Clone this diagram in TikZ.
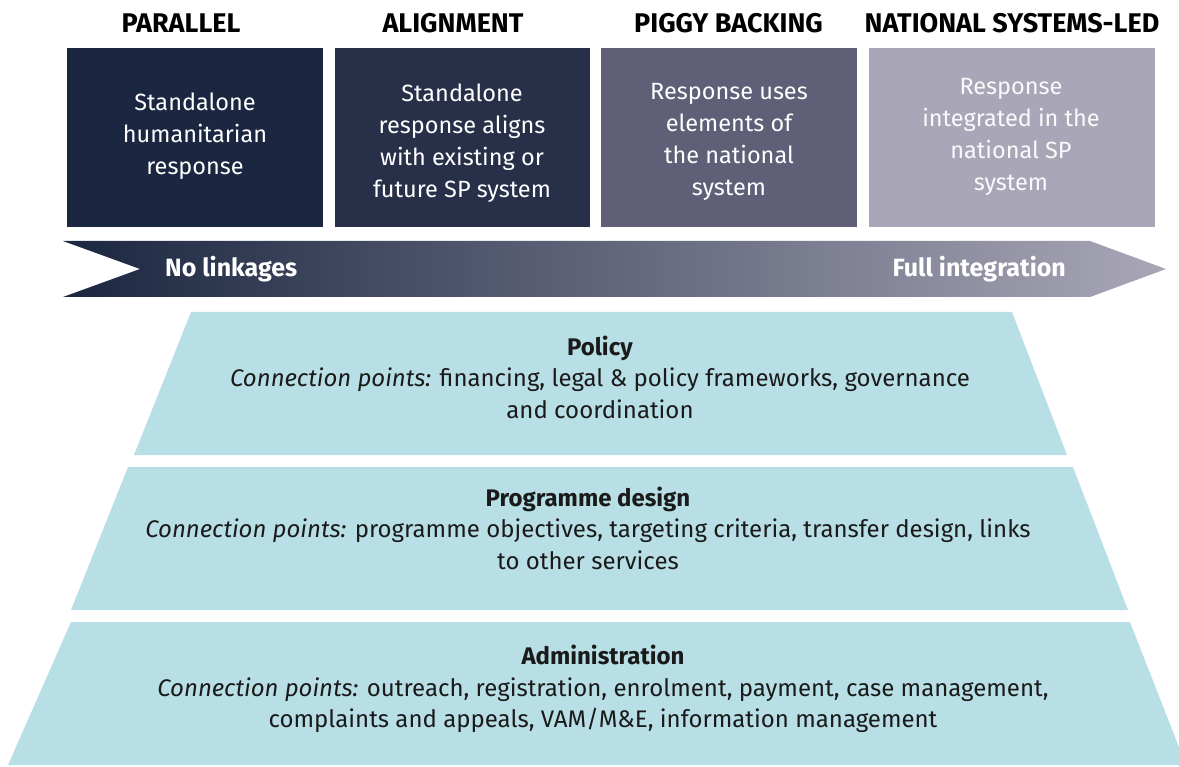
\documentclass[tikz,border=0pt]{standalone}
\usepackage{fontspec}
\setmainfont{Fira Sans}
\usetikzlibrary{positioning}
\definecolor{navyone}{HTML}{1B2640}
\definecolor{navytwo}{HTML}{283049}
\definecolor{slate}{HTML}{5F5F78}
\definecolor{lilac}{HTML}{A9A7B7}
\definecolor{pale}{HTML}{B8DFE5}
\definecolor{ink}{HTML}{1A1A1A}
\tikzset {
  % column headings
  heading/.style = {font=\bfseries\fontsize{27}{30}\selectfont, text=black, inner sep=0pt},
  % coloured approach boxes
  approach/.style = {minimum width=256pt, minimum height=179pt, inner sep=0pt},
  boxtext/.style = {align=center, text=white, inner sep=0pt, font=\fontsize{23.5}{32}\selectfont},
  % labels on the arrow
  ends/.style = {font=\bfseries\fontsize{25}{28}\selectfont, text=white, inner sep=0pt},
  % connection layers
  layertext/.style = {align=center, text=ink, inner sep=0pt, font=\fontsize{24}{31.5}\selectfont},
}

\begin{document}
\begin{tikzpicture}[x=1pt, y=-1pt]
  \useasboundingbox (0,0) rectangle (1179,767);

  \node[approach, fill=navyone] (parallel) at (195,137.5) {};
  \node[approach, fill=navytwo, minimum width=255pt] (align) at (462.5,137.5) {};
  \node[approach, fill=slate] (piggy) at (729,137.5) {};
  \node[approach, fill=lilac, minimum width=286pt] (national) at (1012,137.5) {};

  \node[heading] (hpar) at (181,23) {PARALLEL};
  \node[heading] (hali) at (453,23) {ALIGNMENT};
  \node[heading] (hpig) at (728.5,23) {PIGGY BACKING};
  \node[heading] (hnat) at (1012,23) {NATIONAL SYSTEMS-LED};

  \node[boxtext] (tpar) at (195,136) {Standalone\\humanitarian\\response};
  \node[boxtext] (tali) at (462,143) {Standalone\\response aligns\\with existing or\\future SP system};
  \node[boxtext] (tpig) at (729,141.5) {Response uses\\elements of\\the national\\system};
  \node[boxtext, text=white!94!lilac] (tnat) at (1011,137) {Response\\integrated in the\\national SP\\system};

  % integration arrow
  \shade[left color=navyone, right color=lilac]
    (63,241) -- (1090,241) -- (1166,269) -- (1090,297) -- (63,297) -- (140,269) -- cycle;
  \node[ends, anchor=west] (nolink) at (165,269) {No linkages};
  \node[ends, anchor=east] (full) at (1066,269) {Full integration};

  % layers
  \fill[pale] (191,312) -- (1012,312) -- (1067,455) -- (134,455) -- cycle;
  \fill[pale] (128,467) -- (1073,467) -- (1128,610) -- (71,610) -- cycle;
  \fill[pale] (71,622) -- (1130,622) -- (1186,765) -- (8,765) -- cycle;

  \node[layertext] (policy) at (600,377) {\textbf{Policy}\\\textit{Connection points:} financing, legal \& policy frameworks, governance\\and coordination};
  \node[layertext] (design) at (588,528) {\textbf{Programme design}\\\textit{Connection points:} programme objectives, targeting criteria, transfer design, links\\to other services};
  \node[layertext] (admin) at (603,689) {\textbf{Administration}\\\textit{Connection points:} outreach, registration, enrolment, payment, case management,\\complaints and appeals, VAM/M\&E, information management};
\end{tikzpicture}
\end{document}
